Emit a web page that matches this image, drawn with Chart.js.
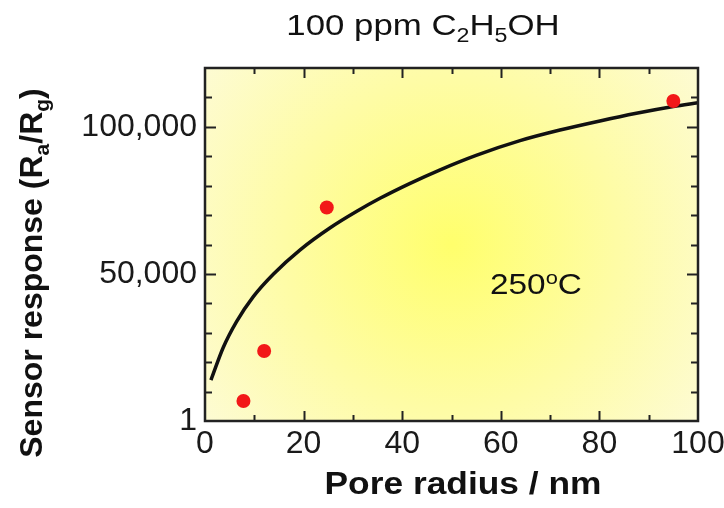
<!DOCTYPE html>
<html>
<head>
<meta charset="utf-8">
<script src="https://cdn.jsdelivr.net/npm/chart.js@4.4.1/dist/chart.umd.min.js"></script>
<style>
  html, body { margin: 0; padding: 0; background: #fff; }
  #wrap { width: 724px; height: 508px; position: relative; }
</style>
</head>
<body>
<div id="wrap"><canvas id="chart"></canvas></div>
<script>
// measured points (red dots)
const poreRadius = [7.8, 12.0, 24.7, 95.0];
const sensorResponse = [6800, 23800, 72600, 108800];

// fitted curve
const fitRadius = [1.2, 3.7, 6.4, 9.8, 13.9, 19.3, 25.4, 30.8, 35.5, 41.5, 47.7, 55.0, 63.9, 72.0, 80.1, 87.5, 95.0, 100];
const fitResponse = [13900, 25000, 33800, 42300, 50000, 58200, 65700, 71300, 75700, 80700, 85400, 90300, 95300, 98900, 102000, 104600, 106900, 108200];

// axes
const xTicks = [0, 20, 40, 60, 80, 100];
const yTicks = [0, 50000, 100000];
const yTickLabels = ['1', '50,000', '100,000'];
const xMinorStep = 10;
const yMinorStep = 10000;

const FONT = "'Liberation Sans', Arial, sans-serif";

function richText(ctx, parts, x, y, size, weight, align, stretch, rotate) {
    const base = weight + ' ' + size + 'px ' + FONT;
    const small = weight + ' ' + Math.round(size * 0.65) + 'px ' + FONT;
    let w = 0;
    parts.forEach(p => {
        ctx.font = p.s ? small : base;
        w += ctx.measureText(p.t).width;
    });
    ctx.save();
    ctx.translate(x, y);
    if (rotate) ctx.rotate(rotate);
    ctx.scale(stretch, 1);
    ctx.fillStyle = '#111';
    ctx.textAlign = 'left';
    ctx.textBaseline = 'alphabetic';
    let cx = align === 'center' ? -w / 2 : 0;
    parts.forEach(p => {
        ctx.font = p.s ? small : base;
        const dy = p.s === 'sub' ? size * 0.22 : (p.s === 'sup' ? -size * 0.36 : 0);
        ctx.fillText(p.t, cx, dy);
        cx += ctx.measureText(p.t).width;
    });
    ctx.restore();
}

const framePlugin = {
    id: 'frame',
    beforeDatasetsDraw(chart) {
        const { ctx, chartArea: a } = chart;
        const cx = a.left + a.width * 0.5;
        const cy = a.top + a.height * 0.5;
        const g = ctx.createRadialGradient(cx, cy, 0, cx, cy, 330);
        g.addColorStop(0, 'rgb(255,255,108)');
        g.addColorStop(0.5, 'rgb(254,252,165)');
        g.addColorStop(1, 'rgb(253,251,220)');
        ctx.save();
        ctx.fillStyle = g;
        ctx.fillRect(a.left, a.top, a.width, a.height);
        ctx.restore();
    },
    afterDatasetsDraw(chart) {
        const { ctx, chartArea: a, scales } = chart;
        const xs = scales.x, ys = scales.y;
        ctx.save();
        ctx.strokeStyle = '#222';
        ctx.lineWidth = 2;
        ctx.beginPath();
        for (let v = xs.min + xMinorStep; v < xs.max; v += xMinorStep) {
            const px = Math.round(xs.getPixelForValue(v)) + 0.5;
            const len = v % 20 === 0 ? 10 : 6;
            ctx.moveTo(px, a.bottom); ctx.lineTo(px, a.bottom - len);
            ctx.moveTo(px, a.top); ctx.lineTo(px, a.top + len);
        }
        for (let v = ys.min + yMinorStep; v < ys.max; v += yMinorStep) {
            const py = Math.round(ys.getPixelForValue(v)) + 0.5;
            const len = v % 50000 === 0 ? 11 : 7;
            ctx.moveTo(a.left, py); ctx.lineTo(a.left + len, py);
            ctx.moveTo(a.right, py); ctx.lineTo(a.right - len, py);
        }
        ctx.stroke();
        ctx.lineWidth = 2.5;
        ctx.strokeRect(a.left, a.top, a.width, a.height);
        ctx.restore();
    },
    afterDraw(chart) {
        const ctx = chart.ctx;
        richText(ctx, [{ t: '100 ppm C' }, { t: '2', s: 'sub' }, { t: 'H' }, { t: '5', s: 'sub' }, { t: 'OH' }],
            423, 35, 30, 'normal', 'center', 1.16);
        richText(ctx, [{ t: '250' }, { t: 'o', s: 'sup' }, { t: 'C' }], 490, 294, 29, 'normal', 'left', 1.15);
        richText(ctx, [{ t: 'Pore radius / nm' }], 463, 494, 31, 'bold', 'center', 1.14);
        richText(ctx, [{ t: 'Sensor response (R' }, { t: 'a', s: 'sub' }, { t: '/R' }, { t: 'g', s: 'sub' }, { t: ')' }],
            42, 273, 32, 'bold', 'center', 1, -Math.PI / 2);
    }
};

const ctx = document.getElementById('chart').getContext('2d');
new Chart(ctx, {
    type: 'scatter',
    data: {
        datasets: [
            {
                label: 'fit',
                data: fitRadius.map((x, i) => ({ x: x, y: fitResponse[i] })),
                showLine: true,
                borderColor: '#111',
                borderWidth: 3.5,
                pointRadius: 0,
                cubicInterpolationMode: 'monotone',
                order: 2
            },
            {
                label: 'measured',
                data: poreRadius.map((x, i) => ({ x: x, y: sensorResponse[i] })),
                backgroundColor: '#f21818',
                borderWidth: 0,
                pointRadius: 7,
                order: 1
            }
        ]
    },
    options: {
        responsive: true,
        maintainAspectRatio: false,
        animation: false,
        layout: { padding: { top: 68, right: 26, left: 0, bottom: 0 } },
        plugins: {
            legend: { display: false },
            tooltip: { enabled: false }
        },
        scales: {
            x: {
                type: 'linear',
                min: 0,
                max: 100,
                grid: { display: false, drawTicks: false },
                border: { display: false },
                afterBuildTicks: s => { s.ticks = xTicks.map(v => ({ value: v })); },
                afterFit: s => { s.height = 87; s.paddingLeft = 0; s.paddingRight = 0; },
                ticks: {
                    color: '#1a1a1a',
                    padding: 4,
                    maxRotation: 0,
                    font: { family: FONT, size: 32 }
                }
            },
            y: {
                type: 'linear',
                min: 0,
                max: 120000,
                grid: { display: false, drawTicks: false },
                border: { display: false },
                afterBuildTicks: s => { s.ticks = yTicks.map(v => ({ value: v })); },
                afterFit: s => { s.width = 205; s.paddingTop = 0; s.paddingBottom = 0; },
                ticks: {
                    color: '#1a1a1a',
                    padding: 8,
                    font: { family: FONT, size: 32 },
                    callback: v => yTickLabels[yTicks.indexOf(v)]
                }
            }
        }
    },
    plugins: [framePlugin]
});
</script>
</body>
</html>
